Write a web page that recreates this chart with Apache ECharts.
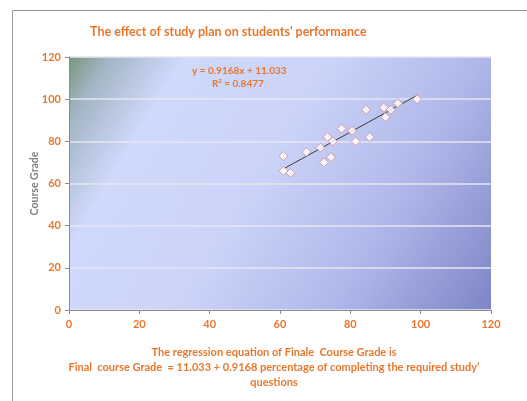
<!DOCTYPE html>
<html>
<head>
<meta charset="utf-8">
<script src="https://cdn.jsdelivr.net/npm/echarts@6/dist/echarts.min.js"></script>
<style>
  html, body { margin: 0; padding: 0; background: #fff; }
  #chart { width: 527px; height: 401px; }
</style>
</head>
<body>
<div id="chart"></div>
<script>
// percentage of required study questions completed
const studyPct = [61, 61, 63, 67.5, 71.5, 72.5, 74.5, 73.5, 75, 77.5, 80.5, 81.5, 85.5, 84.5, 89.5, 90, 91.5, 93.5, 99];
// final course grade
const courseGrade = [73, 66, 65, 75, 77, 70, 72.5, 82, 80, 86, 85, 80, 82, 95, 96, 91.5, 95, 98, 100];
const axisTicks = [0, 20, 40, 60, 80, 100, 120];

// regression from the chart's trendline
const slope = 0.9168;
const intercept = 11.033;

const orange = '#e8772e';
const font = 'Lato, "Open Sans", sans-serif';

const points = studyPct.map((x, i) => [x, courseGrade[i]]);
const xLo = Math.min(...studyPct);
const xHi = Math.max(...studyPct);
const trend = [[xLo, intercept + slope * xLo], [xHi, intercept + slope * xHi]];

const chart = echarts.init(document.getElementById('chart'));

chart.setOption({
    animation: false,
    title: {
        text: "The effect of study plan on students' performance",
        left: 85,
        top: 20,
        textStyle: { color: orange, fontSize: 12.5, fontWeight: 'bold', fontFamily: font }
    },
    grid: {
        left: 69,
        top: 57,
        width: 422,
        height: 253,
        show: true,
        borderWidth: 0,
        backgroundColor: new echarts.graphic.LinearGradient(0, 0, 1, 1, [
            { offset: 0, color: '#78967a' },
            { offset: 0.07, color: '#a3b5c4' },
            { offset: 0.2, color: '#cfd9fb' },
            { offset: 0.45, color: '#cbd4f8' },
            { offset: 0.72, color: '#b0b8ea' },
            { offset: 1, color: '#7e85c6' }
        ])
    },
    xAxis: {
        type: 'value',
        min: axisTicks[0],
        max: axisTicks[axisTicks.length - 1],
        interval: 20,
        splitLine: { show: false },
        axisLine: { show: true, lineStyle: { color: '#8c8c8c' } },
        axisTick: { show: true, length: 4, lineStyle: { color: '#8c8c8c' } },
        axisLabel: { color: orange, fontSize: 11, fontWeight: 'bold', fontFamily: font, margin: 9 }
    },
    yAxis: {
        type: 'value',
        min: axisTicks[0],
        max: axisTicks[axisTicks.length - 1],
        interval: 20,
        name: 'Course Grade',
        nameLocation: 'middle',
        nameGap: 29,
        nameMoveOverlap: false,
        nameTextStyle: { color: '#7f7f7f', fontSize: 10.5, fontWeight: 'bold', fontFamily: font },
        splitLine: { show: true, lineStyle: { color: '#e4e6f0', width: 1.5 } },
        axisLine: { show: true, lineStyle: { color: '#8c8c8c' } },
        axisTick: { show: true, length: 4, lineStyle: { color: '#8c8c8c' } },
        axisLabel: { color: orange, fontSize: 11, fontWeight: 'bold', fontFamily: font, margin: 8 }
    },
    series: [
        {
            type: 'line',
            data: trend,
            symbol: 'none',
            lineStyle: { color: '#3a3a3a', width: 1 },
            z: 3
        },
        {
            type: 'scatter',
            data: points,
            symbol: 'diamond',
            symbolSize: 9,
            itemStyle: { color: '#ffffff', borderColor: '#d8898c', borderWidth: 1 },
            z: 4
        }
    ],
    graphic: [
        {
            type: 'rect',
            shape: { x: 12.5, y: 10.5, width: 700, height: 600 },
            style: { fill: 'none', stroke: '#9a9a9a', lineWidth: 1 },
            silent: true,
            z: -10
        },
        {
            type: 'text',
            x: 192,
            y: 66,
            style: { text: 'y = 0.9168x + 11.033', fill: orange, fontSize: 10, fontWeight: 'bold', fontFamily: font }
        },
        {
            type: 'text',
            x: 212,
            y: 79,
            style: { text: 'R² = 0.8477', fill: orange, fontSize: 10, fontWeight: 'bold', fontFamily: font }
        },
        {
            type: 'text',
            x: 274,
            y: 345,
            style: {
                text: 'The regression equation of Finale  Course Grade is\nFinal  course Grade  = 11.033 + 0.9168 percentage of completing the required study\u2019\nquestions',
                fill: orange,
                fontSize: 11,
                fontWeight: 'bold',
                fontFamily: font,
                lineHeight: 15,
                textAlign: 'center',
                align: 'center'
            }
        }
    ]
});

window.addEventListener('resize', () => {
    chart.resize();
});
</script>
</body>
</html>
